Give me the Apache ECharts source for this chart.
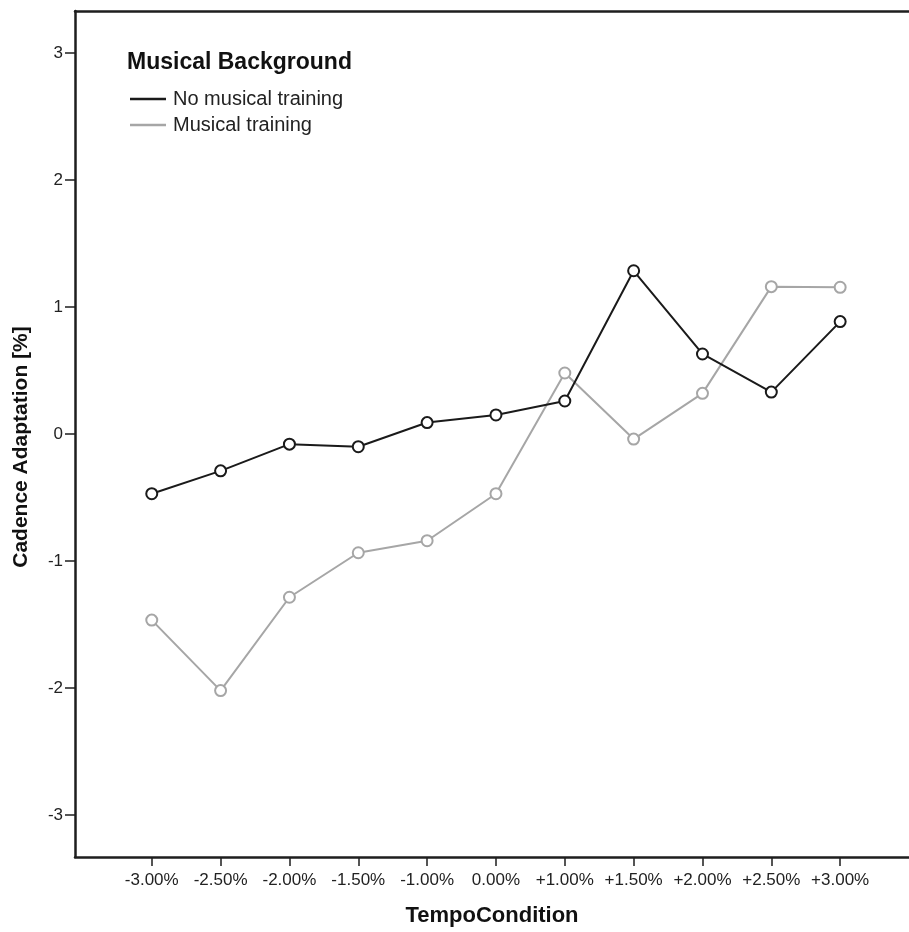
<!DOCTYPE html>
<html>
<head>
<meta charset="utf-8">
<script src="https://cdn.jsdelivr.net/npm/echarts@6/dist/echarts.min.js"></script>
<style>
  html, body { margin: 0; padding: 0; background: #fff; }
  #main { width: 909px; height: 932px; }
</style>
</head>
<body>
<div id="main"></div>
<script>
// tempo conditions on the x axis
var tempoLabels = ['-3.00%', '-2.50%', '-2.00%', '-1.50%', '-1.00%', '0.00%',
                   '+1.00%', '+1.50%', '+2.00%', '+2.50%', '+3.00%'];
var yTicks = [-3, -2, -1, 0, 1, 2, 3];

// cadence adaptation per group
var noTraining = [-0.47, -0.29, -0.08, -0.10, 0.09, 0.15, 0.26, 1.285, 0.63, 0.33, 0.885];
var withTraining = [-1.465, -2.02, -1.285, -0.935, -0.84, -0.47, 0.48, -0.04, 0.32, 1.16, 1.155];

var xIdx = tempoLabels.map(function (l, i) { return i; });

function pairs(vals) {
    return vals.map(function (v, i) { return [i, v]; });
}

var myChart = echarts.init(document.getElementById('main'));

var axisCol = '#1e1e1e';
var font = '"Liberation Sans", Arial, sans-serif';

myChart.setOption({
    backgroundColor: '#ffffff',
    animation: false,
    textStyle: { fontFamily: font },
    title: {
        text: 'Musical Background',
        left: 127,
        top: 51,
        padding: 0,
        textStyle: { fontSize: 23, fontWeight: 'bold', color: '#111', fontFamily: font }
    },
    legend: {
        orient: 'vertical',
        left: 130,
        top: 89,
        padding: 0,
        itemGap: 6,
        itemWidth: 36,
        itemHeight: 2.5,
        icon: 'rect',
        textStyle: { fontSize: 20, color: '#222', lineHeight: 20, padding: [0, 0, 0, 2], fontFamily: font },
        data: ['No musical training', 'Musical training']
    },
    grid: { left: 75, right: 0, top: 11, bottom: 74 },
    xAxis: [{
        type: 'value',
        min: -1.115,
        max: 11.0,
        name: 'TempoCondition',
        nameLocation: 'middle',
        nameGap: 48,
        nameTextStyle: { fontSize: 22, fontWeight: 'bold', color: '#111', fontFamily: font },
        axisLine: { onZero: false, lineStyle: { color: axisCol, width: 2.5 } },
        axisTick: { customValues: xIdx, length: 9, lineStyle: { color: axisCol, width: 1.5 } },
        axisLabel: {
            customValues: xIdx,
            fontSize: 17,
            color: '#222',
            margin: 15,
            formatter: function (v) { return tempoLabels[v]; }
        },
        splitLine: { show: false }
    }, {
        type: 'value',
        position: 'top',
        min: -1.115,
        max: 11.0,
        axisLine: { show: true, onZero: false, lineStyle: { color: axisCol, width: 2.5 } },
        axisTick: { show: false },
        axisLabel: { show: false },
        splitLine: { show: false }
    }],
    yAxis: {
        type: 'value',
        min: -3.33,
        max: 3.33,
        name: 'Cadence Adaptation [%]',
        nameLocation: 'middle',
        nameGap: 43,
        nameTextStyle: { fontSize: 21, fontWeight: 'bold', color: '#111', fontFamily: font, padding: [0, 26, 0, 0] },
        axisLine: { show: true, onZero: false, lineStyle: { color: axisCol, width: 2.5 } },
        axisTick: { customValues: yTicks, length: 10, lineStyle: { color: axisCol, width: 1.5 } },
        axisLabel: { customValues: yTicks, fontSize: 17, color: '#222', margin: 12 },
        splitLine: { show: false }
    },
    series: [{
        name: 'No musical training',
        type: 'line',
        data: pairs(noTraining),
        color: '#1a1a1a',
        symbol: 'emptyCircle',
        symbolSize: 11,
        lineStyle: { width: 2, color: '#1a1a1a' },
        itemStyle: { color: '#1a1a1a', borderWidth: 1.8 },
        z: 3
    }, {
        name: 'Musical training',
        type: 'line',
        data: pairs(withTraining),
        color: '#a6a6a6',
        symbol: 'emptyCircle',
        symbolSize: 11,
        lineStyle: { width: 2, color: '#a6a6a6' },
        itemStyle: { color: '#a6a6a6', borderWidth: 1.6 },
        z: 2
    }]
});
</script>
</body>
</html>
